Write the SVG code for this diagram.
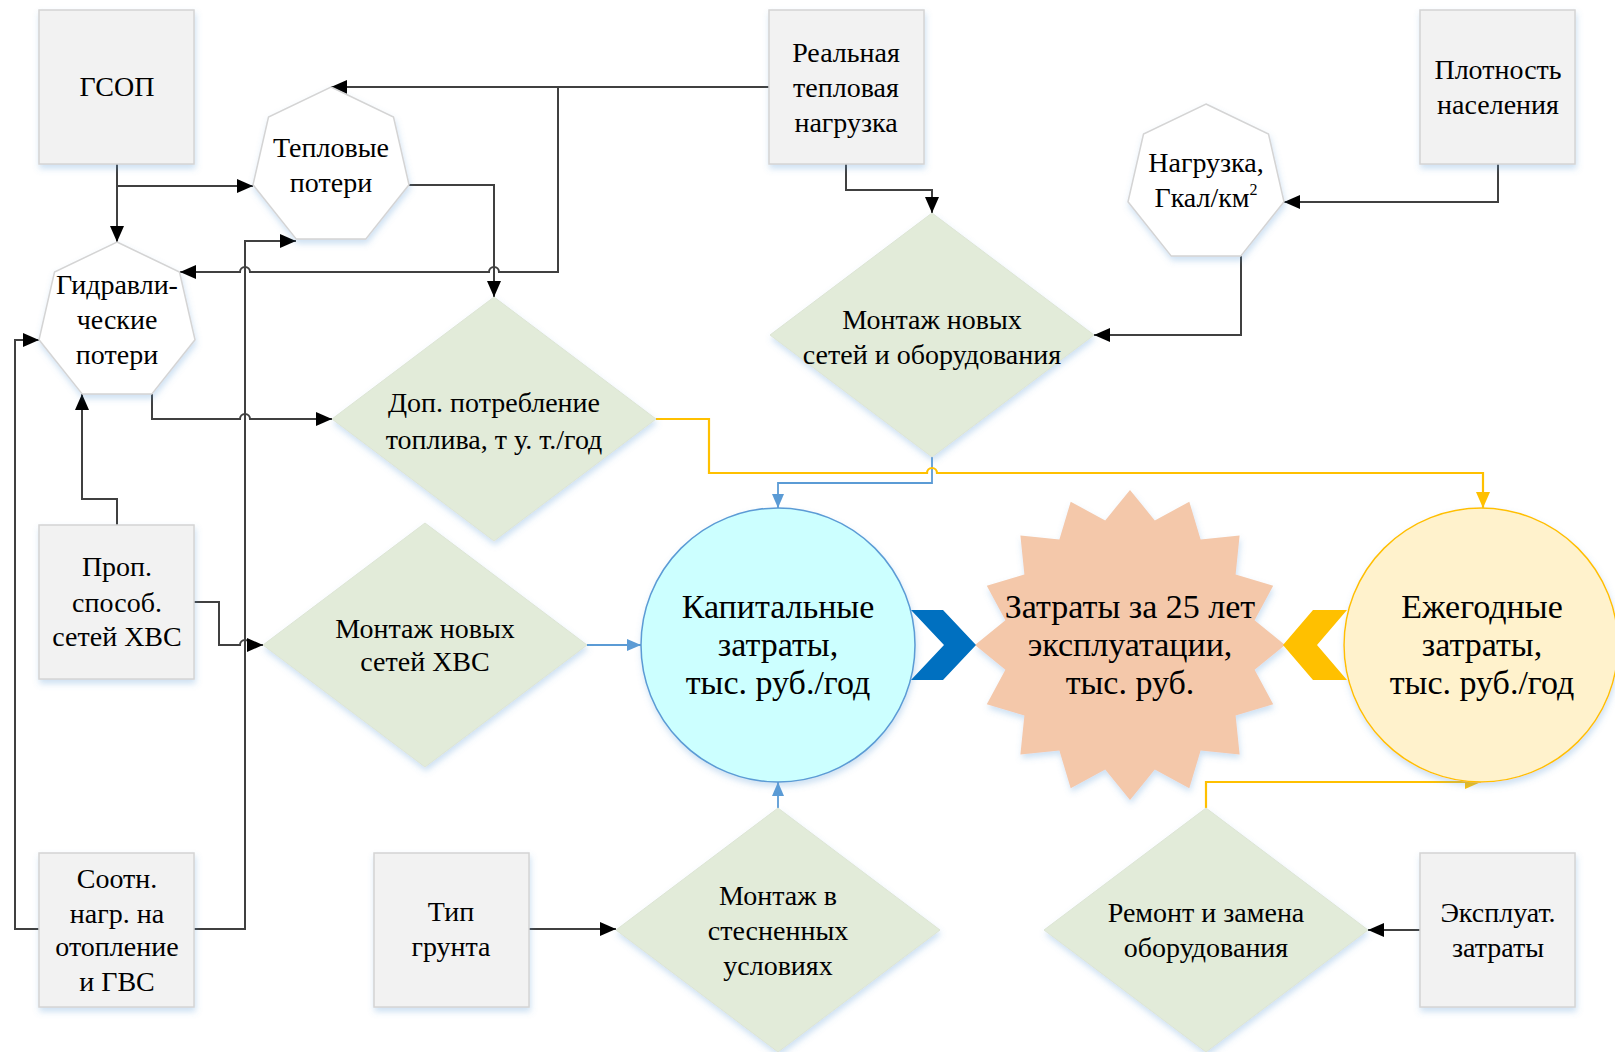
<svg xmlns="http://www.w3.org/2000/svg" width="1615" height="1052" viewBox="0 0 1615 1052">
<defs>
<style>
.box{fill:#F2F2F2;stroke:#D4D4D4;stroke-width:1.5;filter:url(#sh)}
.hep{fill:#FFFFFF;stroke:#D4D4D4;stroke-width:1.5;filter:url(#sh)}
.dia{fill:#E2EBD9;stroke:#DDE5D5;stroke-width:1;filter:url(#sh)}
.t{font-family:"Liberation Serif","Times New Roman",serif;font-size:28px;fill:#000;text-anchor:middle}
.tb{font-family:"Liberation Serif","Times New Roman",serif;font-size:34px;fill:#000;text-anchor:middle}
.ln{fill:none;stroke:#404040;stroke-width:2}
.bl{fill:none;stroke:#5B9BD5;stroke-width:1.8}
.yl{fill:none;stroke:#FFC000;stroke-width:2.2}
</style>
<filter id="sh" x="-10%" y="-10%" width="125%" height="125%">
<feDropShadow dx="1" dy="4" stdDeviation="3" flood-color="#5B9BD5" flood-opacity="0.3"/>
</filter>
<marker id="ak" viewBox="0 0 16 14" refX="16" refY="7" markerWidth="16" markerHeight="14" markerUnits="userSpaceOnUse" orient="auto">
<path d="M0,0 L16,7 L0,14 z" fill="#000"/>
</marker>
<marker id="ab" viewBox="0 0 14 12" refX="14" refY="6" markerWidth="14" markerHeight="12" markerUnits="userSpaceOnUse" orient="auto">
<path d="M0,0 L14,6 L0,12 z" fill="#5B9BD5"/>
</marker>
<marker id="ay" viewBox="0 0 16 14" refX="16" refY="7" markerWidth="16" markerHeight="14" markerUnits="userSpaceOnUse" orient="auto">
<path d="M0,0 L16,7 L0,14 z" fill="#FFC000"/>
</marker>
</defs>
<rect width="1615" height="1052" fill="#FFFFFF"/>

<g id="connectors">
<path class="ln" d="M117,164 V242" marker-end="url(#ak)"/>
<path class="ln" d="M117,186 H253" marker-end="url(#ak)"/>
<path class="ln" d="M769,87 H331" marker-end="url(#ak)"/>
<path class="ln" d="M558,87 V272 H499 A5,5 0 0 0 489,272 H250 A5,5 0 0 0 240,272 H180" marker-end="url(#ak)"/>
<path class="ln" d="M409,185 H494 V297" marker-end="url(#ak)"/>
<path class="ln" d="M846,164 V190 H932 V213" marker-end="url(#ak)"/>
<path class="ln" d="M1498,164 V202 H1284" marker-end="url(#ak)"/>
<path class="ln" d="M1241,256 V335 H1094" marker-end="url(#ak)"/>
<path class="ln" d="M152,394 V419 H240 A5,5 0 0 1 250,419 H332" marker-end="url(#ak)"/>
<path class="ln" d="M117,525 V499 H82 V394" marker-end="url(#ak)"/>
<path class="ln" d="M39,929 H15 V340 H39" marker-end="url(#ak)"/>
<path class="ln" d="M194,929 H245 V241 H296" marker-end="url(#ak)"/>
<path class="ln" d="M194,602 H219 V645 H240 A5,5 0 0 1 250,645 H263" marker-end="url(#ak)"/>
<path class="ln" d="M529,929 H616" marker-end="url(#ak)"/>
<path class="ln" d="M1420,930 H1368" marker-end="url(#ak)"/>
<path class="bl" d="M587,645 H641" marker-end="url(#ab)"/>
<path class="bl" d="M778,808 V782" marker-end="url(#ab)"/>
<path class="bl" d="M932,457 V483 H778 V508" marker-end="url(#ab)"/>
<path class="yl" d="M656,419 H709 V473 H927 A5,5 0 0 1 937,473 H1483 V508" marker-end="url(#ay)"/>
<path class="yl" d="M1206,808 V782 H1481" marker-end="url(#ay)"/>
</g>

<g id="n-gsop"><rect class="box" x="39" y="10" width="155" height="154"/><text class="t" x="117" y="96">ГСОП</text></g>
<g id="n-realnaya"><rect class="box" x="769" y="10" width="155" height="154"/><text class="t" x="846" y="62">Реальная</text><text class="t" x="846" y="97">тепловая</text><text class="t" x="846" y="132">нагрузка</text></g>
<g id="n-plotnost"><rect class="box" x="1420" y="10" width="155" height="154"/><text class="t" x="1498" y="79">Плотность</text><text class="t" x="1498" y="114">населения</text></g>
<g id="n-prop"><rect class="box" x="39" y="525" width="155" height="154"/><text class="t" x="117" y="576">Проп.</text><text class="t" x="117" y="612">способ.</text><text class="t" x="117" y="646">сетей ХВС</text></g>
<g id="n-sootn"><rect class="box" x="39" y="853" width="155" height="154"/><text class="t" x="117" y="888">Соотн.</text><text class="t" x="117" y="923">нагр. на</text><text class="t" x="117" y="956">отопление</text><text class="t" x="117" y="991">и ГВС</text></g>
<g id="n-tip"><rect class="box" x="374" y="853" width="155" height="154"/><text class="t" x="451" y="921">Тип</text><text class="t" x="451" y="956">грунта</text></g>
<g id="n-ekspl"><rect class="box" x="1420" y="853" width="155" height="154"/><text class="t" x="1498" y="922">Эксплуат.</text><text class="t" x="1498" y="957">затраты</text></g>

<g id="n-teplovye"><polygon class="hep" points="331,87 393.5,117.1 409,184.8 365.7,239.1 296.3,239.1 253,184.8 268.5,117.1"/><text class="t" x="331" y="157">Тепловые</text><text class="t" x="331" y="192">потери</text></g>
<g id="n-gidr"><polygon class="hep" points="117,242 179.5,272.1 195,339.8 151.7,394.1 82.3,394.1 39,339.8 54.5,272.1"/><text class="t" x="117" y="294">Гидравли-</text><text class="t" x="117" y="329">ческие</text><text class="t" x="117" y="364">потери</text></g>
<g id="n-nagruzka"><polygon class="hep" points="1206,104 1268.5,134.1 1284,201.8 1240.7,256.1 1171.3,256.1 1128,201.8 1143.5,134.1"/><text class="t" x="1206" y="172">Нагрузка,</text><text class="t" x="1206" y="207">Гкал/км<tspan font-size="16" dy="-12">2</tspan></text></g>

<g id="n-montazh-obor"><polygon class="dia" points="932,213 1094,335 932,457 770,335"/><text class="t" x="932" y="329">Монтаж новых</text><text class="t" x="932" y="364">сетей и оборудования</text></g>
<g id="n-dop"><polygon class="dia" points="494,297 656,419 494,541 332,419"/><text class="t" x="494" y="412">Доп. потребление</text><text class="t" x="494" y="449">топлива, т у. т./год</text></g>
<g id="n-montazh-hvs"><polygon class="dia" points="425,523 587,645 425,767 263,645"/><text class="t" x="425" y="638">Монтаж новых</text><text class="t" x="425" y="671">сетей ХВС</text></g>
<g id="n-stesn"><polygon class="dia" points="778,808 940,930 778,1052 616,930"/><text class="t" x="778" y="905">Монтаж в</text><text class="t" x="778" y="940">стесненных</text><text class="t" x="778" y="975">условиях</text></g>
<g id="n-remont"><polygon class="dia" points="1206,808 1368,930 1206,1052 1044,930"/><text class="t" x="1206" y="922">Ремонт и замена</text><text class="t" x="1206" y="957">оборудования</text></g>

<g id="n-kap"><circle cx="778" cy="645" r="137" fill="#CCFFFF" stroke="#5B9BD5" stroke-width="1.5" filter="url(#sh)"/><text class="tb" x="778" y="618">Капитальные</text><text class="tb" x="778" y="656">затраты,</text><text class="tb" x="778" y="694">тыс. руб./год</text></g>
<g id="n-ezheg"><circle cx="1481" cy="645" r="137" fill="#FFF2CC" stroke="#FFC000" stroke-width="1.5" filter="url(#sh)"/><text class="tb" x="1482" y="618">Ежегодные</text><text class="tb" x="1482" y="656">затраты,</text><text class="tb" x="1482" y="694">тыс. руб./год</text></g>
<g id="n-zatraty"><polygon fill="#F4C8AA" filter="url(#sh)" points="1130,490 1154.8,520.4 1189.3,501.8 1200.6,539.4 1239.6,535.4 1235.6,574.4 1273.2,585.7 1254.6,620.2 1285,645 1254.6,669.8 1273.2,704.3 1235.6,715.6 1239.6,754.6 1200.6,750.6 1189.3,788.2 1154.8,769.6 1130,800 1105.2,769.6 1070.7,788.2 1059.4,750.6 1020.4,754.6 1024.4,715.6 986.8,704.3 1005.4,669.8 975,645 1005.4,620.2 986.8,585.7 1024.4,574.4 1020.4,535.4 1059.4,539.4 1070.7,501.8 1105.2,520.4"/><text class="tb" x="1130" y="618">Затраты за 25 лет</text><text class="tb" x="1130" y="656">эксплуатации,</text><text class="tb" x="1130" y="694">тыс. руб.</text></g>
<g id="n-chev-blue"><polygon fill="#0070C0" points="911,610 943,610 976,645 943,680 911,680 944,645"/></g>
<g id="n-chev-yellow"><polygon fill="#FFC000" points="1283,645 1313,610 1347,610 1317,645 1347,680 1313,680"/></g>
</svg>
